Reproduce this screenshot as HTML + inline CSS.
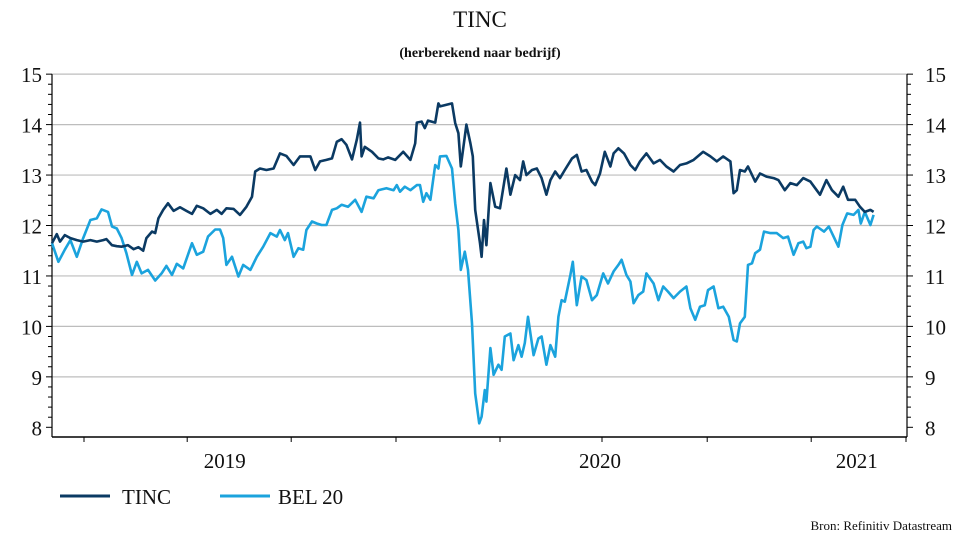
<!DOCTYPE html>
<html><head><meta charset="utf-8"><style>
body{margin:0;background:#fff;}
svg text{font-family:"Liberation Serif",serif;fill:#111;}
</style></head><body>
<svg id="chart" width="960" height="540" viewBox="0 0 960 540" xmlns="http://www.w3.org/2000/svg">
<text x="480" y="27" text-anchor="middle" font-size="23">TINC</text>
<text x="480" y="57" text-anchor="middle" font-size="14" font-weight="bold">(herberekend naar bedrijf)</text>
<g id="grid"></g>
<g id="axes"></g>
<g id="series"></g>
<g>
<line x1="60" y1="496" x2="110" y2="496" stroke="#0b3a63" stroke-width="3"/>
<text x="122" y="504" font-size="21">TINC</text>
<line x1="220" y1="496" x2="270" y2="496" stroke="#1ba3dd" stroke-width="3"/>
<text x="278" y="504" font-size="21">BEL 20</text>
</g>
<text x="952" y="530" text-anchor="end" font-size="13">Bron: Refinitiv Datastream</text>
</svg>
<script>
const yTicks=[8,9,10,11,12,13,14,15];
const xTickWeeks=[4,16.9,29.9,43,56,68.75,81.9,94.9,106.75];
const yearLabels=["2019","2020","2021"];
const yearLabelWeeks=[21.6,68.5,100.6];
const tincWeeks=[0,0.6,1,1.6,2.3,3.1,3.9,4.8,5.6,6.4,6.8,7.5,8.1,8.7,9.5,10.2,10.8,11.4,11.8,12.5,12.9,13.3,13.9,14.5,15.2,16,16.8,17.5,18.1,18.9,19.8,20.6,21.2,21.8,22.7,23.5,24.3,25,25.4,26,26.8,27.7,28.5,29.3,30.2,31,32.3,32.9,33.5,34.3,35,35.6,36.2,36.8,37.5,38.1,38.5,38.7,39.1,40,40.8,41.4,42,42.9,43.9,44.8,45.4,45.6,46.2,46.6,47,47.9,48.3,48.5,50,50.4,50.8,51.1,51.8,52.3,52.6,52.9,53.5,53.7,54,54.3,54.8,55.4,56,56.8,57.3,57.9,58.5,58.9,59.3,60,60.6,61.2,61.8,62.3,62.9,63.5,64.1,65,65.6,66.2,66.8,67.5,67.9,68.5,69.1,69.8,70.2,70.8,71.5,72.3,72.9,73.5,74.3,75.2,76,76.8,77.7,78.5,79.3,80.2,81.4,82.3,83.1,83.9,84.8,85.2,85.6,86,86.6,87,87.9,88.5,89.3,90.2,90.8,91.6,92.3,93.1,93.9,94.8,95.4,96,96.8,97.5,98.3,98.9,99.5,100.4,101,101.6,102.3,102.7];
const tincValues=[11.65,11.83,11.68,11.81,11.75,11.71,11.68,11.71,11.68,11.71,11.73,11.61,11.59,11.58,11.61,11.53,11.57,11.5,11.75,11.88,11.85,12.14,12.31,12.44,12.29,12.36,12.29,12.23,12.39,12.34,12.23,12.31,12.23,12.34,12.33,12.21,12.37,12.57,13.07,13.13,13.1,13.13,13.43,13.38,13.2,13.37,13.37,13.1,13.27,13.3,13.33,13.66,13.71,13.6,13.31,13.7,14.04,13.37,13.56,13.46,13.33,13.31,13.35,13.3,13.46,13.3,13.63,14.04,14.06,13.93,14.08,14.04,14.42,14.36,14.42,14.03,13.83,13.17,14,13.63,13.37,12.31,11.65,11.38,12.11,11.61,12.84,12.37,12.34,13.13,12.61,13,12.9,13.27,13,13.1,13.13,12.94,12.61,12.9,13.07,12.94,13.1,13.33,13.4,13.07,13.1,12.87,12.8,13.03,13.46,13.17,13.43,13.53,13.43,13.2,13.1,13.27,13.43,13.23,13.3,13.17,13.07,13.2,13.23,13.3,13.46,13.37,13.27,13.37,13.27,12.64,12.7,13.1,13.07,13.17,12.87,13.03,12.97,12.94,12.9,12.7,12.84,12.8,12.94,12.87,12.74,12.61,12.9,12.7,12.57,12.77,12.51,12.51,12.37,12.27,12.31,12.27];
const belWeeks=[0,0.8,1.6,2.3,3.1,3.9,4.8,5.6,6.2,7,7.5,8.1,8.7,9.3,10,10.6,11.2,12,12.9,13.7,14.3,15,15.6,16.4,17.5,18.1,18.9,19.5,20.4,21,21.4,21.8,22.5,23.3,23.9,24.8,25.6,26.4,27.3,28.1,28.5,29.1,29.5,30.2,30.8,31.4,31.8,32.5,33.1,33.7,34.3,35,35.6,36.2,37,37.9,38.7,39.3,40.2,40.8,41.8,42.7,43.1,43.5,44.1,44.8,45.6,46,46.4,46.8,47.3,47.9,48.3,48.5,49.3,50,50.4,50.8,51.1,51.6,52,52.5,52.9,53.4,53.7,54.1,54.3,54.8,55.2,55.8,56.2,56.6,57.3,57.7,58.3,58.7,59.1,59.5,60.2,60.8,61.2,61.8,62.3,62.9,63.3,63.7,64.1,64.8,65.1,65.6,66.2,66.8,67.5,68.1,68.9,69.5,70.2,70.8,71.2,71.8,72.3,72.7,73.3,73.9,74.3,75.2,75.8,76.4,77,77.7,78.5,79.3,79.8,80.4,81,81.6,82,82.7,83.3,83.9,84.6,85.2,85.6,86,86.6,87,87.5,87.9,88.5,89,89.8,90.6,91.4,92,92.7,93.3,93.9,94.3,94.8,95.2,95.6,96.5,97.1,97.7,98.3,98.8,99.4,100.2,100.8,101.1,101.6,102.3,102.7];
const belValues=[11.65,11.28,11.52,11.71,11.38,11.75,12.11,12.14,12.32,12.27,11.98,11.94,11.75,11.45,11.02,11.28,11.05,11.12,10.91,11.05,11.2,11.02,11.24,11.15,11.65,11.42,11.48,11.78,11.92,11.92,11.75,11.22,11.38,10.99,11.22,11.12,11.38,11.58,11.85,11.78,11.91,11.71,11.85,11.38,11.55,11.52,11.91,12.08,12.04,12.01,12.01,12.31,12.34,12.41,12.37,12.51,12.27,12.57,12.54,12.7,12.74,12.7,12.8,12.67,12.77,12.7,12.8,12.8,12.47,12.64,12.51,13.2,13.13,13.37,13.38,13.13,12.44,11.91,11.12,11.48,11.12,10.06,8.67,8.08,8.21,8.74,8.51,9.57,9.04,9.24,9.14,9.8,9.86,9.33,9.63,9.4,9.67,10.19,9.43,9.76,9.8,9.24,9.63,9.4,10.19,10.52,10.49,11.02,11.28,10.42,10.99,10.92,10.52,10.62,11.05,10.85,11.09,11.22,11.32,11.02,10.89,10.46,10.62,10.69,11.05,10.85,10.52,10.79,10.69,10.56,10.69,10.79,10.36,10.13,10.39,10.42,10.72,10.79,10.36,10.39,10.19,9.73,9.7,10.06,10.19,11.22,11.25,11.45,11.52,11.88,11.85,11.85,11.75,11.78,11.42,11.65,11.68,11.55,11.58,11.91,11.98,11.88,11.98,11.78,11.58,12.01,12.24,12.21,12.31,12.04,12.27,12.01,12.21];

const L=52,R=907,B=437;
const xs=w=>L+w*8;
const ys=v=>427.3-(v-8)*50.45;
const NS="http://www.w3.org/2000/svg";
function mk(tag,attrs,parent){const e=document.createElementNS(NS,tag);for(const k in attrs)e.setAttribute(k,attrs[k]);parent.appendChild(e);return e;}
const grid=document.getElementById('grid'),axes=document.getElementById('axes'),series=document.getElementById('series');
yTicks.forEach(v=>{
  if(v>8){const g=mk('line',{x1:L,x2:R,y1:ys(v),y2:ys(v),stroke:'#bdbdbd','stroke-width':1.2},grid);
  
  }
  const t1=mk('text',{x:L-10,y:ys(v)+8,'text-anchor':'end','font-size':21},axes);t1.textContent=v;
  
  
  const t2=mk('text',{x:R+18,y:ys(v)+8,'text-anchor':'start','font-size':21},axes);t2.textContent=v;
  
  
});
for(let v=8;v<=15.001;v+=0.2){
  const major=Math.abs(v-Math.round(v))<0.01;const len=major?6:4;
  mk('line',{x1:L-len,x2:L,y1:ys(v),y2:ys(v),stroke:'#000','stroke-width':1},axes);
  mk('line',{x1:R,x2:R+len,y1:ys(v),y2:ys(v),stroke:'#000','stroke-width':1},axes);
}
mk('line',{x1:L,x2:L,y1:ys(15),y2:B,stroke:'#000','stroke-width':1.2},axes);
mk('line',{x1:R,x2:R,y1:ys(15),y2:B,stroke:'#000','stroke-width':1.2},axes);
const xa=mk('line',{x1:L,x2:R,y1:B,y2:B,stroke:'#000','stroke-width':1.5},axes);


xTickWeeks.forEach(w=>{mk('line',{x1:xs(w),x2:xs(w),y1:B,y2:B+5,stroke:'#000','stroke-width':1},axes);});
yearLabels.forEach((s,i)=>{const t=mk('text',{x:xs(yearLabelWeeks[i]),y:468,'text-anchor':'middle','font-size':21},axes);t.textContent=s;
  
  });
function line(ws,vs,color,name){
  const d=ws.map((w,i)=>(i?'L':'M')+xs(w).toFixed(1)+','+ys(vs[i]).toFixed(1)).join('');
  const p=mk('path',{d:d,fill:'none',stroke:color,'stroke-width':2.6,'stroke-linejoin':'round'},series);
  
  
}
line(belWeeks,belValues,'#1ba3dd','bel20-line');
line(tincWeeks,tincValues,'#0b3a63','tinc-line');
</script>
</body></html>
